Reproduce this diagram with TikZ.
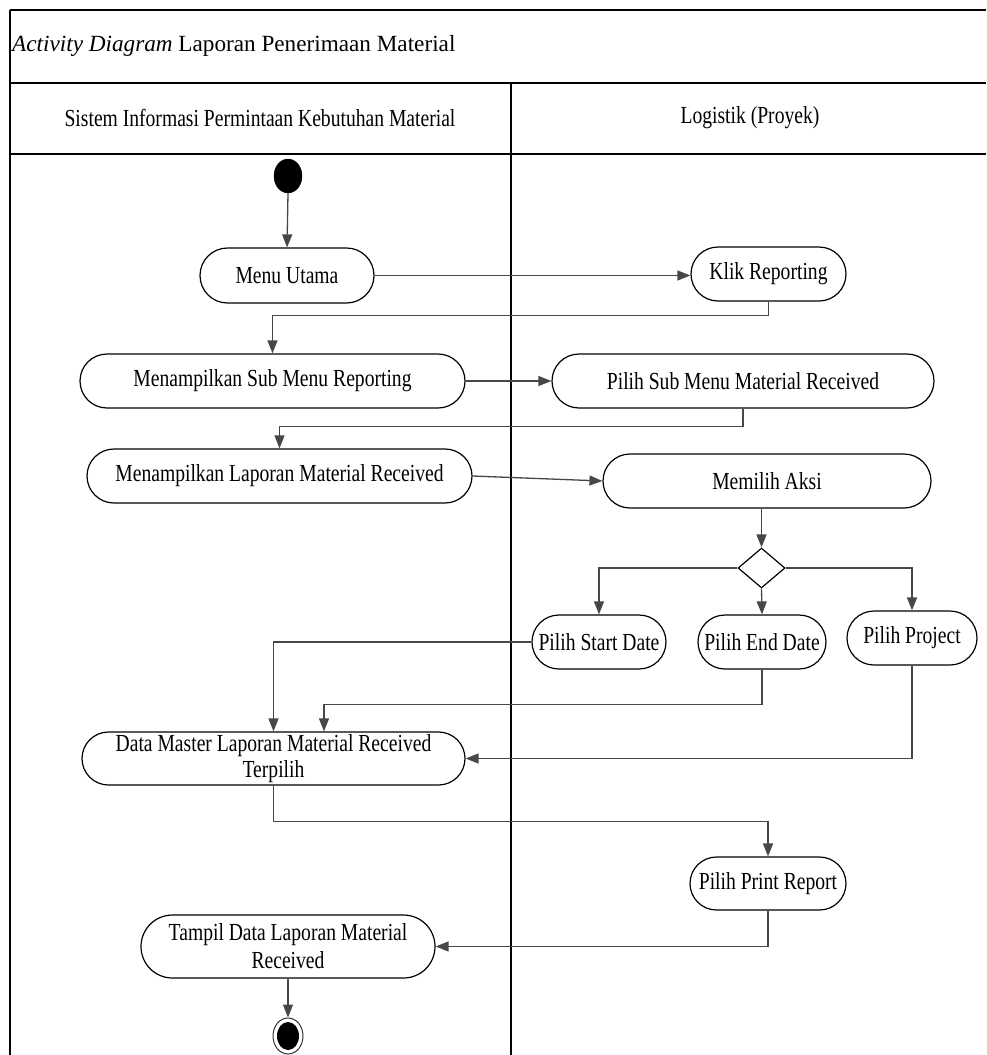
\documentclass[tikz,border=0pt]{standalone}
\usepackage{fontspec}
\setmainfont{Liberation Serif}[FakeStretch=0.8]
\newfontfamily\titlefont{Liberation Serif}
\usetikzlibrary{shapes.misc,shapes.geometric,arrows.meta}

\tikzset{
  lane/.style={draw=black, line width=1.5pt},
  act/.style={rounded rectangle, draw=black, line width=1.2pt, fill=white,
    minimum height=54pt, inner sep=0pt, align=center,
    font=\fontsize{24.5pt}{26pt}\selectfont},
  flow/.style={draw=black!72, line width=1.3pt,
    -{Triangle[length=13pt,width=10pt]}},
  dec/.style={diamond, draw=black, line width=1.2pt, inner sep=0pt,
    minimum width=47pt, minimum height=40pt},
  hdr/.style={font=\fontsize{24.5pt}{26pt}\selectfont},
  ttl/.style={font=\titlefont\fontsize{23.2pt}{26pt}\selectfont}
}

\begin{document}
\begin{tikzpicture}[x=1pt, y=-1pt]
\useasboundingbox (0,0) rectangle (986,1055);

% swimlane frame
\draw[lane] (10,10) -- (986,10);
\draw[lane] (10,83) -- (986,83);
\draw[lane] (10,154) -- (986,154);
\draw[lane] (10,10) -- (10,1055);
\draw[lane] (511,83) -- (511,1055);

\node[ttl, anchor=west, inner sep=0pt] (title) at (12,46) {\textit{Activity Diagram} Laporan Penerimaan Material};
\node[hdr] (laneA) at (260,118) {Sistem Informasi Permintaan Kebutuhan Material};
\node[hdr] (laneB) at (750,118) {Logistik (Proyek)};

% activities
\node[ellipse, fill=black, draw=black, minimum width=28pt, minimum height=34pt, inner sep=0pt] (start) at (288,176) {};
\node[act, minimum width=174pt, minimum height=55pt] (menu) at (287,275.5) {Menu Utama};
\node[act, minimum width=155pt] (klik) at (768.5,274) {Klik Reporting};
\node[act, minimum width=385pt] (sub) at (272.5,381) {Menampilkan Sub Menu Reporting};
\node[act, minimum width=382pt] (pilihsub) at (743,381) {Pilih Sub Menu Material Received};
\node[act, minimum width=385pt] (lap) at (279.5,476) {Menampilkan Laporan Material Received};
\node[act, minimum width=328pt] (aksi) at (767,481) {Memilih Aksi};
\node[dec] (choice) at (761.5,568) {};
\node[act, minimum width=134pt] (sd) at (599,642) {Pilih Start Date};
\node[act, minimum width=128pt] (ed) at (762,642) {Pilih End Date};
\node[act, minimum width=130pt] (pj) at (912,638) {Pilih Project};
\node[act, minimum width=383pt, minimum height=53pt] (master) at (273.5,758.5) {Data Master Laporan Material Received\\Terpilih};
\node[act, minimum width=156pt, minimum height=53pt] (print) at (768,883.5) {Pilih Print Report};
\node[act, minimum width=294pt, minimum height=63pt, font=\fontsize{24.5pt}{28pt}\selectfont] (tampil) at (288,946.5) {Tampil Data Laporan Material\\Received};
\node[ellipse, draw=black!80, line width=1pt, fill=white, minimum width=30pt, minimum height=36pt, inner sep=0pt] (end) at (288,1036) {};
\node[ellipse, fill=black, minimum width=22pt, minimum height=28pt, inner sep=0pt] (endcore) at (end.center) {};

% control flow
\draw[flow] (start.south) -- (menu.north);
\draw[flow] (menu.east) -- (menu.east -| klik.west);
\draw[flow] (klik.south) -- ++(0,14) -| (sub.north);
\draw[flow] (sub.east) -- (pilihsub.west);
\draw[flow] (pilihsub.south) -- ++(0,18) -| (lap.north);
\draw[flow] (lap.east) -- (aksi.west);
\draw[flow] (aksi.south -| choice.north) -- (choice.north);
\draw[flow] (choice.west) -| (sd.north);
\draw[flow] (choice.south) -- (ed.north);
\draw[flow] (choice.east) -| (pj.north);
\draw[flow] (sd.west) -| (master.north);
\draw[flow] (ed.south) -- ++(0,35) -| ([xshift=50.5pt]master.north);
\draw[flow] (pj.south) |- (master.east);
\draw[flow] (master.south) -- ++(0,36) -| (print.north);
\draw[flow] (print.south) |- (tampil.east);
\draw[flow] (tampil.south) -- (end.north);
\end{tikzpicture}
\end{document}
